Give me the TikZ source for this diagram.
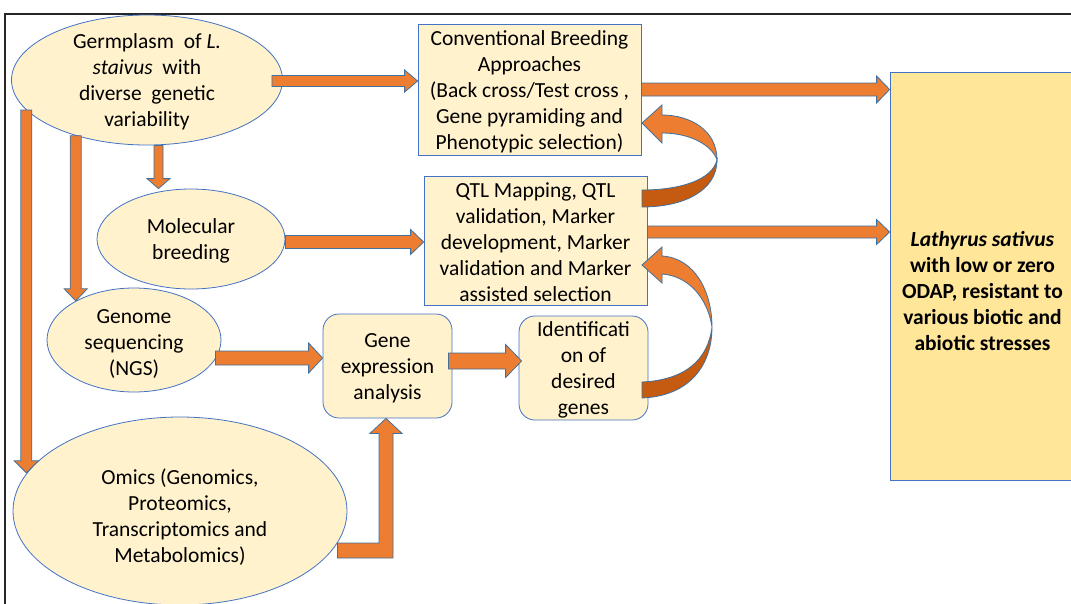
\documentclass[tikz,border=0pt]{standalone}
\usepackage{fontspec}
\setmainfont{Carlito}
\usetikzlibrary{shapes.geometric,calc}
\definecolor{lightfill}{HTML}{FFF2CC}
\definecolor{resfill}{HTML}{FFE699}
\definecolor{edgeblue}{HTML}{4472C4}
\definecolor{arrfill}{HTML}{ED7D31}
\definecolor{arrdark}{HTML}{C55A11}
\definecolor{arredge}{HTML}{41719C}
\tikzset{
  barrow/.style={fill=arrfill, draw=arredge, line width=0.8pt, line join=miter},
  darkband/.style={fill=arrdark, draw=arredge, line width=0.8pt},
  oval/.style={ellipse, draw=edgeblue, fill=lightfill, line width=0.8pt, inner sep=0pt},
  sqbox/.style={rectangle, draw=edgeblue, fill=lightfill, line width=0.8pt, inner sep=0pt},
  rbox/.style={sqbox, rounded corners=16pt},
  txt/.style={font=\fontsize{21.5}{26}\selectfont, align=center, text=black, yshift=-2pt},
  frameline/.style={line width=1.5pt, draw=black!85}
}
% block arrows: #1 start, #2 tip, #3 shaft half width, #4 head half width, #5 head length
\newcommand{\arrR}[5]{\filldraw[barrow] let \p1=#1, \p2=#2 in
  (\x1,\y1+#3) -- (\x2-#5,\y1+#3) -- (\x2-#5,\y1+#4) -- (\x2,\y1) -- (\x2-#5,\y1-#4) -- (\x2-#5,\y1-#3) -- (\x1,\y1-#3) -- cycle;}
\newcommand{\arrD}[5]{\filldraw[barrow] let \p1=#1, \p2=#2 in
  (\x1-#3,\y1) -- (\x1-#3,\y2+#5) -- (\x1-#4,\y2+#5) -- (\x1,\y2) -- (\x1+#4,\y2+#5) -- (\x1+#3,\y2+#5) -- (\x1+#3,\y1) -- cycle;}
\begin{document}
\begin{tikzpicture}[x=1pt,y=-1pt]
\clip (0,0) rectangle (1071,603);
\fill[white] (0,0) rectangle (1071,603);
\draw[frameline] (5,610) -- (5,14) -- (1080,14);

% nodes
\node[oval, minimum width=271pt, minimum height=130pt,
  label={[txt]center:{Germplasm\ \ of \textit{L.}\\\textit{staivus}\ \ with\\diverse\ \ genetic\\variability}}] (germ) at (147,80) {};
\node[sqbox, minimum width=223pt, minimum height=131pt,
  label={[txt]center:{Conventional Breeding\\Approaches\\(Back cross/Test cross ,\\Gene pyramiding and\\Phenotypic selection)}}] (conv) at (529.5,89.5) {};
\node[sqbox, minimum width=223pt, minimum height=129pt,
  label={[txt]center:{QTL Mapping, QTL\\validation, Marker\\development, Marker\\validation and Marker\\assisted selection}}] (qtl) at (535.5,240.5) {};
\node[oval, minimum width=188pt, minimum height=100pt,
  label={[txt]center:{Molecular\\breeding}}] (mol) at (191,239) {};
\node[oval, minimum width=174pt, minimum height=104pt,
  label={[txt,yshift=-2pt]center:{Genome\\sequencing\\(NGS)}}] (gen) at (134,340) {};
\node[oval, minimum width=334pt, minimum height=188pt,
  label={[txt,yshift=-4pt]center:{Omics (Genomics,\\Proteomics,\\Transcriptomics and\\Metabolomics)}}] (omics) at (180,511) {};
\node[rbox, minimum width=129pt, minimum height=104pt,
  label={[txt]center:{Gene\\expression\\analysis}}] (gexp) at (387.5,366) {};
\node[rbox, minimum width=129pt, minimum height=104pt,
  label={[txt]center:{Identificati\\on of\\desired\\genes}}] (ident) at (583.5,368) {};
\node[sqbox, fill=resfill, minimum width=185pt, minimum height=408pt,
  label={[txt,yshift=-13pt]center:{\textbf{\textit{Lathyrus sativus}}\\\textbf{with low or zero}\\\textbf{ODAP, resistant to}\\\textbf{various biotic and}\\\textbf{abiotic stresses}}}] (res) at (982.5,276) {};

% straight block arrows
\arrR{([xshift=-11pt,yshift=-1pt]germ.east)}{(conv.west)}{5.5pt}{11pt}{13pt}
\arrR{(conv.east)}{(res.west)}{6.5pt}{13.5pt}{13pt}
\arrR{([yshift=8.5pt]qtl.east)}{(res.west)}{6pt}{12.5pt}{13pt}
\arrR{([yshift=-3pt]mol.east)}{(qtl.west)}{6.5pt}{12.5pt}{13pt}
\arrR{([xshift=-6pt,yshift=-18pt]gen.east)}{(gexp.west)}{7pt}{15pt}{14pt}
\arrR{([xshift=-4pt,yshift=5pt]gexp.east)}{([xshift=3pt]ident.west)}{8pt}{16.5pt}{16pt}
\arrD{([xshift=11.5pt]germ.south)}{(mol.north)}{4.5pt}{11.5pt}{10pt}
\arrD{(germ.218)}{(gen.146)}{5.5pt}{11.5pt}{12pt}
\arrD{(germ.194)}{(omics.166)}{5.5pt}{12pt}{12pt}

% elbow arrow omics -> gene expression
\filldraw[barrow] let \p1=([xshift=-10pt,yshift=-39.5pt]omics.east), \p2=([xshift=-1.5pt]gexp.south) in
  (\x1,\y1+7.5pt) -- (\x2-7pt,\y1+7.5pt) -- (\x2-7pt,\y2-15pt) -- (\x2-16pt,\y2-15pt) -- (\x2,\y2)
  -- (\x2+16pt,\y2-15pt) -- (\x2+7pt,\y2-15pt) -- (\x2+7pt,\y1-7.5pt) -- (\x1,\y1-7.5pt) -- cycle;

% curved arrow QTL -> conventional
\filldraw[darkband] (642,190) -- (642,207) .. controls (685,207) and (717,190) .. (717,160)
  .. controls (712,180) and (680,190) .. (642,190) -- cycle;
\filldraw[barrow] (717,160) .. controls (717,130) and (690,115) .. (662,115) -- (662,105) -- (642,123)
  -- (662,143) -- (662,133) .. controls (690,133) and (712,145) .. (717,160) -- cycle;

% curved arrow identification -> QTL
\filldraw[darkband] (642,382) -- (642,398) .. controls (690,396) and (712,365) .. (712,327)
  .. controls (708,360) and (685,380) .. (642,382) -- cycle;
\filldraw[barrow] (712,327) .. controls (712,292) and (695,258) .. (662,256) -- (662,247) -- (642,265)
  -- (662,283) -- (662,274) .. controls (690,276) and (708,300) .. (712,327) -- cycle;
\end{tikzpicture}
\end{document}
